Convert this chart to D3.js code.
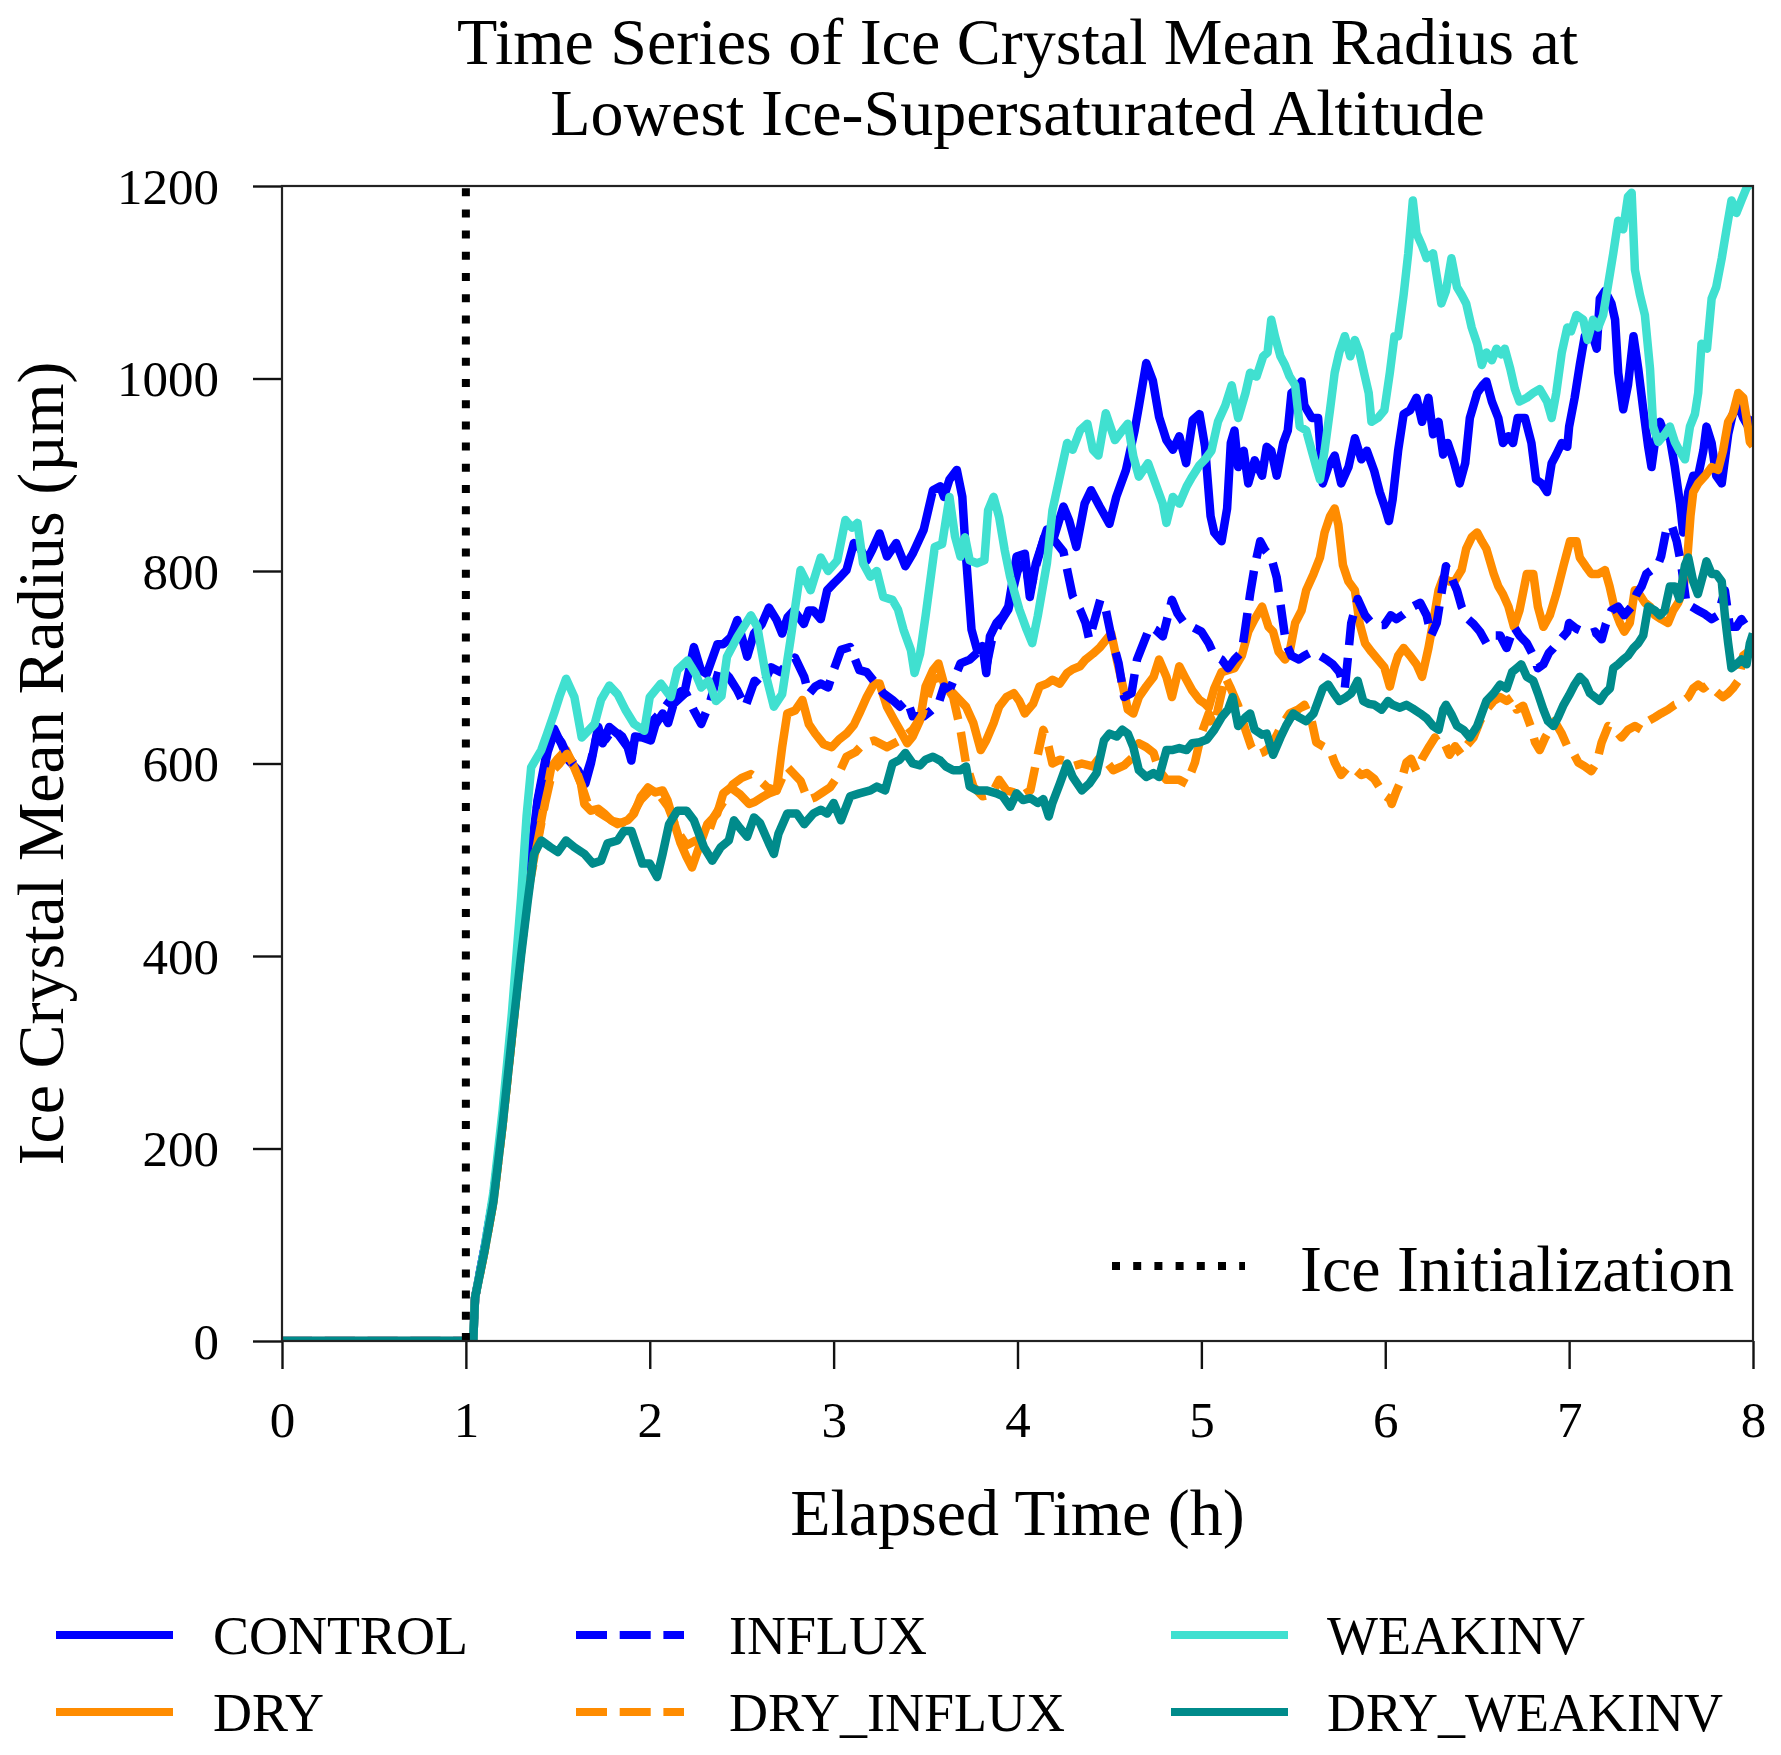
<!DOCTYPE html>
<html>
<head>
<meta charset="utf-8">
<script src="https://cdn.jsdelivr.net/npm/d3@7"></script>
<style>
  body { margin: 0; background: #fff; }
  text { font-family: "Liberation Serif", "Times New Roman", serif; fill: #000; }
</style>
</head>
<body>
<svg id="chart" width="1781" height="1755"></svg>
<script>
// ---- data (hours, micrometres) ----
const timeTicks = [0, 1, 2, 3, 4, 5, 6, 7, 8];
const radiusTicks = [0, 200, 400, 600, 800, 1000, 1200];
const iceInitTime = 1;
const titleLines = ["Time Series of Ice Crystal Mean Radius at", "Lowest Ice-Supersaturated Altitude"];

const control = [[0,0],[1.04,0],[1.05,45],[1.1,95],[1.15,150],[1.2,230],[1.25,320],[1.3,420],[1.35,500],[1.39,562],[1.445,617],[1.48,636],[1.52,620],[1.56,603],[1.61,593],[1.65,579],[1.68,600],[1.72,638],[1.744,621],[1.78,638],[1.83,630],[1.88,617],[1.9,603],[1.92,628],[1.96,627],[2.006,624],[2.03,640],[2.07,652],[2.1,642],[2.13,662],[2.187,672],[2.24,721],[2.278,697],[2.31,693],[2.368,724],[2.4,724],[2.44,731],[2.476,749],[2.53,711],[2.567,735],[2.61,745],[2.648,762],[2.69,749],[2.72,735],[2.75,752],[2.784,759],[2.838,745],[2.865,759],[2.89,759],[2.93,750],[2.965,780],[3.0,787],[3.037,794],[3.07,801],[3.11,829],[3.14,825],[3.18,811],[3.21,822],[3.25,839],[3.29,815],[3.34,829],[3.39,805],[3.43,818],[3.49,843],[3.54,884],[3.58,888],[3.6,877],[3.63,895],[3.67,905],[3.7,877],[3.72,815],[3.75,739],[3.78,718],[3.81,722],[3.83,694],[3.85,732],[3.886,746],[3.92,753],[3.95,763],[3.995,815],[4.04,818],[4.067,773],[4.1,808],[4.16,843],[4.2,836],[4.25,867],[4.28,853],[4.32,825],[4.365,870],[4.4,884],[4.447,867],[4.5,849],[4.537,877],[4.59,905],[4.637,946],[4.66,971],[4.7,1016],[4.736,998],[4.77,960],[4.81,936],[4.845,926],[4.88,940],[4.917,912],[4.953,957],[4.99,963],[5.02,929],[5.05,857],[5.07,840],[5.11,831],[5.14,865],[5.16,933],[5.18,946],[5.2,908],[5.23,925],[5.255,891],[5.29,915],[5.33,899],[5.355,929],[5.38,925],[5.41,899],[5.445,933],[5.47,946],[5.49,985],[5.52,989],[5.545,997],[5.56,972],[5.6,959],[5.635,959],[5.66,891],[5.69,908],[5.725,920],[5.76,891],[5.8,908],[5.835,938],[5.87,916],[5.9,925],[5.94,904],[5.97,882],[6.0,865],[6.02,852],[6.04,874],[6.07,925],[6.1,963],[6.135,967],[6.17,980],[6.2,955],[6.235,980],[6.26,942],[6.29,955],[6.315,921],[6.34,933],[6.37,916],[6.405,891],[6.435,912],[6.46,959],[6.5,985],[6.53,993],[6.55,997],[6.58,976],[6.615,959],[6.64,933],[6.67,940],[6.695,933],[6.72,959],[6.76,959],[6.795,933],[6.82,895],[6.85,891],[6.88,882],[6.905,912],[6.93,921],[6.96,933],[6.99,929],[7.0,950],[7.03,980],[7.058,1014],[7.085,1044],[7.12,1049],[7.15,1031],[7.167,1083],[7.195,1091],[7.23,1078],[7.25,1061],[7.267,1006],[7.294,968],[7.32,993],[7.35,1044],[7.376,1010],[7.403,968],[7.43,929],[7.448,908],[7.466,933],[7.494,955],[7.52,942],[7.548,938],[7.575,908],[7.603,870],[7.62,840],[7.648,882],[7.675,899],[7.702,899],[7.73,925],[7.747,950],[7.775,933],[7.8,899],[7.83,891],[7.865,942],[7.89,963],[7.92,972],[7.947,959],[7.974,950],[8.0,960]];

const dry = [[0,0],[1.04,0],[1.05,45],[1.1,92],[1.15,145],[1.2,225],[1.25,315],[1.3,405],[1.346,478],[1.39,520],[1.43,562],[1.464,596],[1.5,605],[1.545,614],[1.58,600],[1.626,579],[1.644,558],[1.68,551],[1.72,553],[1.753,548],[1.79,541],[1.825,537],[1.88,541],[1.915,548],[1.95,565],[1.99,575],[2.03,570],[2.07,572],[2.096,562],[2.13,540],[2.168,517],[2.2,503],[2.23,492],[2.268,513],[2.313,537],[2.367,548],[2.4,569],[2.44,575],[2.49,568],[2.54,558],[2.57,560],[2.61,565],[2.65,569],[2.69,572],[2.72,617],[2.748,652],[2.79,655],[2.83,666],[2.865,641],[2.9,631],[2.946,620],[2.99,617],[3.03,625],[3.07,631],[3.11,640],[3.14,652],[3.18,669],[3.22,683],[3.25,683],[3.29,659],[3.33,645],[3.36,635],[3.4,621],[3.43,628],[3.47,645],[3.5,680],[3.54,697],[3.57,704],[3.6,683],[3.65,673],[3.69,665],[3.72,659],[3.76,642],[3.8,614],[3.83,624],[3.87,642],[3.9,659],[3.94,669],[3.98,673],[4.01,665],[4.04,652],[4.085,662],[4.12,680],[4.16,683],[4.19,687],[4.23,683],[4.27,694],[4.3,698],[4.34,701],[4.37,708],[4.41,714],[4.45,721],[4.48,728],[4.51,735],[4.54,708],[4.57,683],[4.6,656],[4.63,652],[4.66,669],[4.7,680],[4.74,690],[4.77,708],[4.81,690],[4.84,669],[4.88,701],[4.91,690],[4.95,676],[4.99,666],[5.02,662],[5.04,658],[5.07,678],[5.11,695],[5.145,697],[5.18,699],[5.22,712],[5.255,737],[5.29,750],[5.33,763],[5.365,742],[5.39,737],[5.42,716],[5.455,708],[5.48,716],[5.51,746],[5.545,759],[5.57,780],[5.61,797],[5.645,814],[5.67,840],[5.7,857],[5.725,865],[5.745,848],[5.77,806],[5.8,789],[5.835,780],[5.86,746],[5.89,725],[5.925,716],[5.96,708],[5.995,700],[6.025,680],[6.05,700],[6.07,712],[6.1,720],[6.135,712],[6.17,703],[6.2,690],[6.235,720],[6.26,746],[6.29,780],[6.315,793],[6.35,789],[6.38,790],[6.415,801],[6.44,823],[6.47,835],[6.5,840],[6.525,831],[6.55,823],[6.59,797],[6.615,784],[6.64,776],[6.67,763],[6.7,742],[6.73,759],[6.77,797],[6.805,797],[6.83,763],[6.86,742],[6.895,754],[6.93,776],[6.97,806],[7.005,831],[7.04,831],[7.058,814],[7.09,805],[7.12,797],[7.16,797],[7.195,801],[7.22,784],[7.25,759],[7.276,746],[7.3,737],[7.33,746],[7.357,780],[7.385,775],[7.412,767],[7.44,763],[7.467,754],[7.5,750],[7.538,746],[7.566,759],[7.593,767],[7.62,780],[7.64,806],[7.66,857],[7.675,882],[7.702,891],[7.74,899],[7.775,908],[7.81,905],[7.837,925],[7.865,955],[7.89,963],[7.92,985],[7.947,980],[7.965,959],[7.983,934],[8.0,930]];

const influx = [[0,0],[1.04,0],[1.05,45],[1.1,95],[1.15,150],[1.2,230],[1.25,320],[1.3,415],[1.35,495],[1.39,560],[1.445,612],[1.48,632],[1.52,622],[1.56,605],[1.61,595],[1.65,585],[1.68,603],[1.72,635],[1.76,625],[1.8,636],[1.85,628],[1.9,610],[1.95,625],[2.02,645],[2.07,655],[2.12,668],[2.17,675],[2.2,672],[2.24,655],[2.28,641],[2.33,665],[2.38,700],[2.43,690],[2.476,676],[2.52,659],[2.57,686],[2.61,679],[2.66,700],[2.71,695],[2.75,704],[2.79,710],[2.84,690],[2.865,672],[2.9,680],[2.93,683],[2.97,679],[3.0,697],[3.04,718],[3.09,721],[3.14,697],[3.18,695],[3.23,683],[3.27,673],[3.32,666],[3.36,659],[3.4,666],[3.43,649],[3.49,649],[3.53,655],[3.57,662],[3.6,680],[3.63,676],[3.69,704],[3.74,708],[3.78,715],[3.83,700],[3.86,728],[3.9,745],[3.95,760],[4.0,800],[4.04,810],[4.07,780],[4.1,805],[4.16,845],[4.2,832],[4.25,820],[4.3,774],[4.34,760],[4.37,746],[4.39,729],[4.45,770],[4.48,760],[4.51,732],[4.55,704],[4.58,669],[4.62,673],[4.65,708],[4.72,742],[4.75,739],[4.79,732],[4.84,770],[4.87,756],[4.91,745],[4.95,742],[5.0,737],[5.04,725],[5.07,712],[5.11,708],[5.145,699],[5.18,708],[5.22,716],[5.24,742],[5.265,776],[5.29,805],[5.32,831],[5.345,822],[5.38,814],[5.41,793],[5.435,759],[5.46,725],[5.49,712],[5.53,708],[5.56,712],[5.6,716],[5.645,712],[5.68,708],[5.715,703],[5.75,695],[5.78,678],[5.8,716],[5.815,746],[5.85,771],[5.89,754],[5.925,746],[5.96,744],[5.995,744],[6.03,754],[6.06,750],[6.1,755],[6.15,763],[6.19,767],[6.225,754],[6.25,733],[6.28,746],[6.305,776],[6.33,805],[6.36,793],[6.39,780],[6.415,763],[6.45,750],[6.48,745],[6.515,737],[6.55,725],[6.59,733],[6.625,733],[6.66,720],[6.7,742],[6.73,733],[6.77,725],[6.805,712],[6.83,699],[6.86,703],[6.89,715],[6.915,720],[6.95,728],[6.99,737],[7.0,746],[7.04,740],[7.077,737],[7.11,735],[7.14,737],[7.177,729],[7.2,745],[7.23,759],[7.267,763],[7.3,754],[7.34,763],[7.367,776],[7.394,784],[7.42,797],[7.448,801],[7.48,805],[7.5,815],[7.53,844],[7.557,848],[7.585,831],[7.61,806],[7.64,763],[7.666,763],[7.702,759],[7.74,755],[7.775,750],[7.81,754],[7.847,780],[7.874,742],[7.91,742],[7.937,750],[7.965,742],[8.0,745]];

const dryInflux = [[0,0],[1.04,0],[1.05,45],[1.1,92],[1.15,145],[1.2,225],[1.25,315],[1.3,405],[1.346,475],[1.39,518],[1.43,558],[1.47,592],[1.51,600],[1.55,610],[1.59,598],[1.63,577],[1.66,560],[1.7,552],[1.75,546],[1.8,540],[1.85,538],[1.9,545],[1.95,562],[2.0,572],[2.05,568],[2.1,555],[2.15,530],[2.2,515],[2.25,520],[2.31,523],[2.35,545],[2.4,560],[2.45,578],[2.5,585],[2.55,589],[2.6,582],[2.64,575],[2.69,572],[2.72,585],[2.75,596],[2.78,590],[2.82,582],[2.86,562],[2.9,565],[2.94,570],[2.98,575],[3.02,586],[3.07,607],[3.12,612],[3.16,620],[3.22,624],[3.29,617],[3.36,624],[3.43,635],[3.48,650],[3.54,687],[3.58,690],[3.62,678],[3.65,669],[3.69,635],[3.72,600],[3.76,576],[3.81,566],[3.86,568],[3.9,583],[3.94,572],[3.98,570],[4.02,566],[4.07,572],[4.1,600],[4.14,635],[4.16,625],[4.19,600],[4.23,604],[4.27,602],[4.3,597],[4.35,600],[4.41,597],[4.45,607],[4.48,603],[4.52,593],[4.58,598],[4.63,607],[4.66,621],[4.7,617],[4.74,611],[4.77,593],[4.81,583],[4.88,583],[4.92,579],[4.965,601],[5.0,631],[5.04,652],[5.07,639],[5.1,665],[5.13,690],[5.16,678],[5.2,660],[5.24,635],[5.27,618],[5.3,609],[5.34,612],[5.38,618],[5.435,639],[5.48,652],[5.525,656],[5.56,661],[5.6,644],[5.625,622],[5.66,618],[5.7,614],[5.725,601],[5.76,588],[5.8,597],[5.835,594],[5.87,588],[5.9,590],[5.94,584],[5.97,575],[5.995,567],[6.025,563],[6.035,558],[6.06,571],[6.09,584],[6.115,601],[6.14,605],[6.17,592],[6.2,605],[6.24,618],[6.27,627],[6.3,618],[6.325,620],[6.35,609],[6.38,618],[6.415,609],[6.44,618],[6.48,627],[6.515,644],[6.55,656],[6.59,665],[6.625,669],[6.66,665],[6.69,669],[6.715,656],[6.75,660],[6.79,639],[6.815,622],[6.84,614],[6.87,627],[6.895,635],[6.92,644],[6.96,631],[6.99,618],[7.02,612],[7.05,601],[7.085,597],[7.12,592],[7.15,601],[7.177,622],[7.213,639],[7.25,635],[7.285,627],[7.32,635],[7.358,639],[7.394,635],[7.43,644],[7.466,648],[7.5,652],[7.538,656],[7.575,661],[7.61,663],[7.648,669],[7.675,678],[7.702,682],[7.73,678],[7.756,682],[7.78,678],[7.81,673],[7.837,669],[7.865,673],[7.89,678],[7.92,686],[7.947,712],[7.974,716],[8.0,718]];

const weakinv = [[0,0],[1.04,0],[1.05,45],[1.1,95],[1.15,155],[1.2,240],[1.25,340],[1.3,460],[1.33,545],[1.355,596],[1.41,614],[1.44,630],[1.48,652],[1.51,670],[1.545,688],[1.59,669],[1.63,627],[1.66,633],[1.7,641],[1.735,666],[1.78,681],[1.825,672],[1.87,655],[1.915,641],[1.97,634],[2.0,669],[2.06,683],[2.115,669],[2.15,697],[2.205,707],[2.25,693],[2.28,679],[2.32,686],[2.36,665],[2.39,670],[2.42,711],[2.475,731],[2.55,754],[2.585,742],[2.63,693],[2.675,659],[2.72,672],[2.765,728],[2.82,801],[2.875,780],[2.93,814],[2.97,800],[3.02,811],[3.064,853],[3.1,845],[3.13,850],[3.16,808],[3.2,794],[3.235,800],[3.27,773],[3.32,770],[3.35,760],[3.38,739],[3.42,718],[3.44,694],[3.47,714],[3.5,753],[3.55,825],[3.59,828],[3.63,877],[3.66,836],[3.69,815],[3.715,835],[3.74,811],[3.78,808],[3.82,811],[3.84,863],[3.87,877],[3.9,856],[3.93,822],[3.96,794],[4.01,760],[4.05,739],[4.08,725],[4.11,753],[4.16,808],[4.19,863],[4.23,898],[4.27,933],[4.3,926],[4.34,946],[4.38,953],[4.41,926],[4.44,920],[4.48,964],[4.53,936],[4.57,946],[4.6,953],[4.63,919],[4.66,898],[4.71,912],[4.75,891],[4.79,870],[4.81,850],[4.845,877],[4.88,870],[4.92,888],[4.95,898],[4.99,910],[5.02,916],[5.055,925],[5.09,955],[5.13,972],[5.165,993],[5.2,959],[5.24,985],[5.265,1006],[5.3,1002],[5.336,1023],[5.36,1027],[5.38,1061],[5.4,1044],[5.43,1023],[5.455,1014],[5.48,1002],[5.51,993],[5.535,950],[5.57,946],[5.6,925],[5.625,908],[5.645,895],[5.67,925],[5.7,968],[5.725,1006],[5.75,1027],[5.78,1044],[5.81,1023],[5.835,1040],[5.86,1027],[5.88,1010],[5.91,985],[5.925,955],[5.96,959],[5.995,967],[6.025,1006],[6.05,1044],[6.07,1044],[6.1,1087],[6.125,1130],[6.15,1185],[6.17,1151],[6.2,1138],[6.225,1125],[6.26,1130],[6.29,1095],[6.305,1078],[6.33,1091],[6.36,1125],[6.39,1095],[6.415,1087],[6.44,1078],[6.47,1053],[6.5,1036],[6.525,1014],[6.55,1027],[6.58,1019],[6.605,1031],[6.63,1025],[6.65,1031],[6.68,1010],[6.705,989],[6.73,976],[6.77,980],[6.805,985],[6.84,989],[6.88,976],[6.905,959],[6.93,985],[6.96,1027],[6.99,1053],[7.01,1049],[7.04,1066],[7.077,1061],[7.1,1040],[7.13,1061],[7.158,1053],[7.185,1066],[7.21,1095],[7.24,1130],[7.267,1164],[7.294,1155],[7.32,1189],[7.34,1193],[7.358,1113],[7.385,1087],[7.412,1066],[7.44,1010],[7.457,950],[7.485,934],[7.52,942],[7.548,950],[7.575,934],[7.6,925],[7.63,916],[7.657,950],[7.684,963],[7.702,985],[7.72,1036],[7.75,1031],[7.775,1083],[7.8,1095],[7.83,1125],[7.856,1155],[7.883,1185],[7.91,1172],[7.937,1185],[7.965,1198],[8.0,1205]];

const dryWeakinv = [[0,0],[1.04,0],[1.05,45],[1.1,92],[1.15,145],[1.2,225],[1.25,315],[1.3,400],[1.337,458],[1.37,506],[1.41,520],[1.46,513],[1.5,508],[1.545,520],[1.59,513],[1.645,506],[1.69,496],[1.735,499],[1.77,517],[1.825,520],[1.86,530],[1.9,530],[1.93,513],[1.96,496],[2.0,496],[2.04,482],[2.07,506],[2.105,537],[2.15,551],[2.2,551],[2.24,541],[2.295,513],[2.34,499],[2.386,513],[2.43,520],[2.458,541],[2.49,533],[2.53,524],[2.567,544],[2.6,538],[2.648,517],[2.675,506],[2.7,527],[2.748,548],[2.8,548],[2.84,537],[2.89,548],[2.93,552],[2.965,548],[3.0,559],[3.04,541],[3.09,566],[3.14,569],[3.2,572],[3.235,576],[3.28,572],[3.32,600],[3.36,604],[3.39,611],[3.43,600],[3.47,598],[3.5,604],[3.54,607],[3.58,603],[3.61,597],[3.65,593],[3.69,593],[3.72,597],[3.74,576],[3.78,572],[3.83,572],[3.886,569],[3.92,566],[3.96,555],[3.995,569],[4.03,562],[4.07,564],[4.11,559],[4.14,563],[4.17,545],[4.19,559],[4.23,579],[4.27,600],[4.3,586],[4.35,572],[4.39,579],[4.43,590],[4.47,624],[4.5,631],[4.54,628],[4.57,635],[4.6,631],[4.63,617],[4.66,593],[4.7,586],[4.74,590],[4.77,586],[4.81,614],[4.84,614],[4.88,616],[4.92,614],[4.95,621],[4.99,622],[5.03,625],[5.07,635],[5.11,648],[5.145,656],[5.17,669],[5.2,639],[5.24,648],[5.265,652],[5.29,635],[5.33,630],[5.355,631],[5.39,609],[5.43,627],[5.46,639],[5.5,652],[5.53,648],[5.57,644],[5.61,652],[5.635,665],[5.66,678],[5.69,682],[5.72,673],[5.75,665],[5.78,668],[5.815,673],[5.85,686],[5.88,665],[5.91,662],[5.94,661],[5.98,656],[6.015,665],[6.04,661],[6.08,658],[6.115,661],[6.15,657],[6.19,652],[6.225,647],[6.26,639],[6.29,635],[6.315,656],[6.33,661],[6.36,651],[6.39,639],[6.425,635],[6.46,627],[6.5,639],[6.525,652],[6.55,665],[6.59,673],[6.625,682],[6.66,678],[6.69,695],[6.715,699],[6.74,703],[6.77,690],[6.805,686],[6.83,673],[6.86,656],[6.885,644],[6.915,639],[6.94,648],[6.97,661],[7.0,671],[7.03,682],[7.058,690],[7.085,685],[7.113,673],[7.14,669],[7.167,665],[7.195,673],[7.222,678],[7.24,699],[7.267,703],[7.294,708],[7.32,712],[7.35,720],[7.376,725],[7.403,733],[7.43,763],[7.466,759],[7.494,754],[7.52,759],[7.548,784],[7.575,784],[7.6,771],[7.63,806],[7.648,814],[7.675,789],[7.7,776],[7.73,797],[7.747,810],[7.775,797],[7.8,797],[7.83,789],[7.847,754],[7.865,725],[7.883,699],[7.91,703],[7.937,708],[7.965,703],[7.983,725],[8.0,735]];

const seriesNames = ["CONTROL", "DRY", "INFLUX", "DRY_INFLUX", "WEAKINV", "DRY_WEAKINV"];
const seriesValues = [control, dry, influx, dryInflux, weakinv, dryWeakinv];

// ---- styles ----
const colorOf = {CONTROL: "#0000ff", DRY: "#ff8c00", INFLUX: "#0000ff", DRY_INFLUX: "#ff8c00", WEAKINV: "#40e0d0", DRY_WEAKINV: "#008b8b"};
const dashOf = {INFLUX: "30,12.8", DRY_INFLUX: "30,12.8"};
const lineW = 8.5;

const box = {left: 282, right: 1753, top: 186, bottom: 1341};

const svg = d3.select("#chart");
svg.append("rect").attr("width", 1781).attr("height", 1755).attr("fill", "#fff");

let x = d3.scaleLinear().domain([0, 8]).range([box.left, box.right]);
let y = d3.scaleLinear().domain([0, 1200]).range([box.bottom, box.top]);

svg.append("clipPath").attr("id", "plotClip")
    .append("rect")
    .attr("x", box.left).attr("y", box.top)
    .attr("width", box.right - box.left).attr("height", box.bottom - box.top);

// series
let line = d3.line().x(d => x(d[0])).y(d => y(d[1]));
let plot = svg.append("g").attr("clip-path", "url(#plotClip)");

seriesNames.forEach(function (name, i) {
    plot.append("path")
        .datum(seriesValues[i])
        .attr("d", line)
        .attr("fill", "none")
        .attr("stroke", colorOf[name])
        .attr("stroke-width", lineW)
        .attr("stroke-linejoin", "round")
        .attr("stroke-dasharray", dashOf[name] || null);
});

// ice initialization marker
plot.append("line")
    .attr("x1", x(iceInitTime)).attr("x2", x(iceInitTime))
    .attr("y1", y(0)).attr("y2", y(1200))
    .attr("stroke", "#000")
    .attr("stroke-width", 8)
    .attr("stroke-dasharray", "8,13.2");

// axes
let yAxis = svg.append("g")
    .attr("transform", "translate(" + box.left + ",0)")
    .call(d3.axisLeft(y).tickValues(radiusTicks).tickFormat(d3.format("d"))
        .tickSize(29).tickPadding(34).tickSizeOuter(0));

let xAxis = svg.append("g")
    .attr("transform", "translate(0," + box.bottom + ")")
    .call(d3.axisBottom(x).tickValues(timeTicks).tickFormat(d3.format("d"))
        .tickSize(28).tickSizeOuter(0));

[xAxis, yAxis].forEach(function (ax) {
    ax.select(".domain").remove();
    ax.selectAll(".tick line").attr("stroke", "#111").attr("stroke-width", 2.4);
    ax.selectAll(".tick text")
        .style("font-family", "'Liberation Serif', serif")
        .attr("font-size", 51)
        .attr("fill", "#000");
});
yAxis.selectAll(".tick text").attr("dy", "0.34em");
xAxis.selectAll(".tick text").attr("y", 96).attr("dy", null);

// frame
svg.append("rect")
    .attr("x", box.left).attr("y", box.top)
    .attr("width", box.right - box.left).attr("height", box.bottom - box.top)
    .attr("fill", "none")
    .attr("stroke", "#222")
    .attr("stroke-width", 2.2);

// titles
titleLines.forEach(function (t, i) {
    svg.append("text")
        .attr("x", (box.left + box.right) / 2).attr("y", 64 + i * 71)
        .attr("text-anchor", "middle")
        .attr("font-size", 66)
        .text(t);
});

svg.append("text")
    .attr("x", (box.left + box.right) / 2).attr("y", 1535)
    .attr("text-anchor", "middle")
    .attr("font-size", 66)
    .text("Elapsed Time (h)");

svg.append("text")
    .attr("transform", "translate(63," + (box.top + box.bottom) / 2 + ") rotate(-90)")
    .attr("text-anchor", "middle")
    .attr("font-size", 66)
    .text("Ice Crystal Mean Radius (\u00b5m)");

// in-plot legend
svg.append("line")
    .attr("x1", 1112).attr("x2", 1245)
    .attr("y1", 1266).attr("y2", 1266)
    .attr("stroke", "#000")
    .attr("stroke-width", 8)
    .attr("stroke-dasharray", "8,13.2");

svg.append("text")
    .attr("x", 1300).attr("y", 1291)
    .attr("font-size", 66)
    .text("Ice Initialization");

// bottom legend, 3 columns x 2 rows
let colLine = [56, 576, 1171];
let colText = [213, 729, 1327];
let rowY = [1635, 1712];

seriesNames.forEach(function (name, i) {
    let c = Math.floor(i / 2), r = i % 2;
    let len = dashOf[name] ? 108 : 117;
    svg.append("line")
        .attr("x1", colLine[c]).attr("x2", colLine[c] + len)
        .attr("y1", rowY[r]).attr("y2", rowY[r])
        .attr("stroke", colorOf[name])
        .attr("stroke-width", 8)
        .attr("stroke-dasharray", dashOf[name] ? "31,12.7" : null);

    svg.append("text")
        .attr("x", colText[c]).attr("y", rowY[r] + 19)
        .attr("font-size", 54)
        .text(name);
});
</script>
</body>
</html>
